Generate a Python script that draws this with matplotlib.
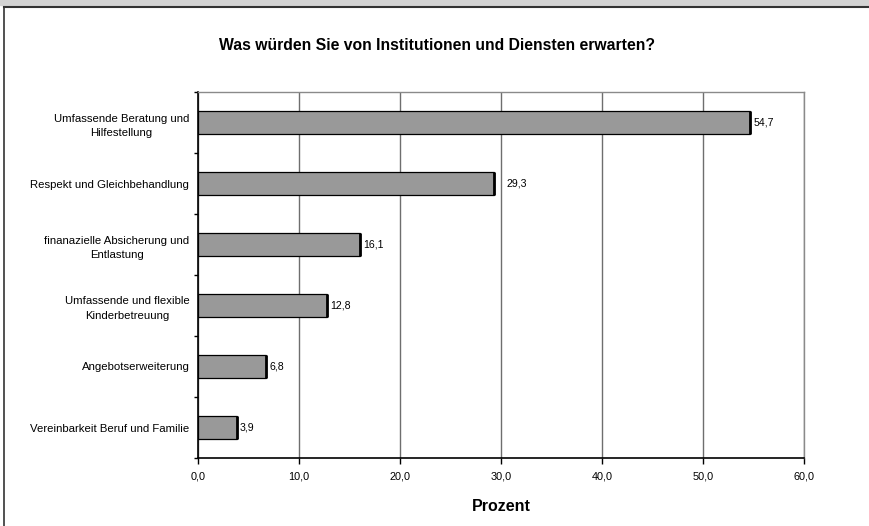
import numpy as np
import matplotlib.pyplot as plt
from matplotlib.lines import Line2D
from matplotlib.patches import Rectangle

plt.rcParams['font.family'] = ['Liberation Sans', 'DejaVu Sans']

# data
categories = ['Umfassende Beratung und\nHilfestellung',
              'Respekt und Gleichbehandlung',
              'finanazielle Absicherung und\nEntlastung',
              'Umfassende und flexible\nKinderbetreuung',
              'Angebotserweiterung',
              'Vereinbarkeit Beruf und Familie']
values = [54.7, 29.3, 16.1, 12.8, 6.8, 3.9]
value_labels = ['54,7', '29,3', '16,1', '12,8', '6,8', '3,9']
xticks = [0, 10, 20, 30, 40, 50, 60]
xtick_labels = ['0,0', '10,0', '20,0', '30,0', '40,0', '50,0', '60,0']

fig = plt.figure(figsize=(8.69, 5.26), dpi=100)
ax = fig.add_axes([197.7/869, 1-458/526, (804-197.7)/869, (458-92)/526])

y = np.arange(len(values))
ax.barh(y, values, height=0.39, color='#999999', edgecolor='black', linewidth=0.9, zorder=3)
# heavier right end like the original
ax.vlines(values, y-0.195, y+0.195, color='black', linewidth=2, zorder=4)

# labels next to bar ends (the 29,3 one sits further out in the original)
offsets = [2, 9, 2, 2, 2, 2]
for yi, v, lab, off in zip(y, values, value_labels, offsets):
    ax.annotate(lab, (v, yi), xytext=(off, 0), textcoords='offset points',
                ha='left', va='center', fontsize=7.6)

ax.set_xlim(0, 60)
ax.set_ylim(len(values)-0.5, -0.5)
ax.set_xticks(xticks)
ax.set_xticklabels(xtick_labels, fontsize=7.8)
ax.set_yticks(y)
ax.set_yticklabels(categories, fontsize=8.2)
for t in ax.get_yticklabels():
    t.set_multialignment('center')
    t.set_linespacing(1.55)
ax.tick_params(axis='y', length=0, pad=6)
ax.set_yticks(np.arange(len(values)+1)-0.5, minor=True)
ax.tick_params(axis='y', which='minor', length=3, width=1, direction='out')
ax.tick_params(axis='x', length=4, width=1, direction='out', pad=6)

ax.grid(axis='x', color='#6e6e6e', linewidth=1, zorder=0)
ax.set_axisbelow(True)
for s in ['top', 'right']:
    ax.spines[s].set_color('#8a8a8a')
    ax.spines[s].set_linewidth(1)
for s in ['left', 'bottom']:
    ax.spines[s].set_color('black')
    ax.spines[s].set_linewidth(1.2)

ax.set_xlabel('Prozent', fontsize=11.5, fontweight='bold', labelpad=12)
fig.text(0.5025, 1-45/526, 'Was würden Sie von Institutionen und Diensten erwarten?',
         ha='center', va='center', fontsize=11.3, fontweight='bold')

# frame and top strip of the screenshot
fig.patches.append(Rectangle((0, 1-5/526), 1, 5/526, transform=fig.transFigure,
                             color='#d3d3d3', zorder=0))
fig.lines.append(Line2D([4/869, 1], [1-6.5/526, 1-6.5/526], transform=fig.transFigure,
                        color='#333333', linewidth=1.5))
fig.lines.append(Line2D([4/869, 4/869], [0, 1-6.5/526], transform=fig.transFigure,
                        color='#333333', linewidth=1.2))

fig.savefig('out.png', dpi=100)
